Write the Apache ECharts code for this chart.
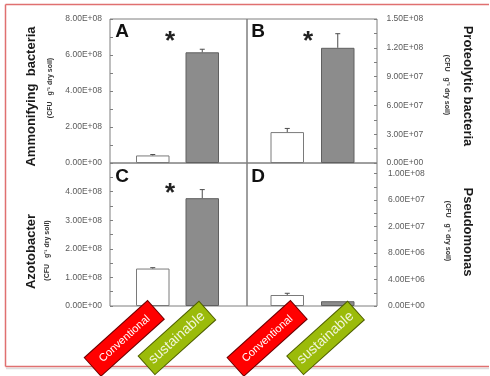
<!DOCTYPE html>
<html>
<head>
<meta charset="utf-8">
<script src="https://cdn.jsdelivr.net/npm/echarts@6/dist/echarts.min.js"></script>
<style>
  html, body { margin: 0; padding: 0; background: #ffffff; overflow: hidden; }
  #chart { width: 490px; height: 376px; }
</style>
</head>
<body>
<div id="chart"></div>
<script>
// Soil bacteria counts (CFU per g dry soil) under two management systems
const categories = ['Conventional', 'sustainable'];

const ammonifying = [4.2e7, 6.15e8];
const ammonifyingErr = [5e6, 1.7e7];

const proteolytic = [3.22e7, 1.2e8];
const proteolyticErr = [3.8e6, 1.47e7];

const azotobacter = [1.31e8, 3.77e8];
const azotobacterErr = [3e6, 3e7];

const pseudomonas = [8.3e6, 3.6e6];
const pseudomonasErr = [1.3e6, 0];

// Axis tick labels, bottom to top
const ticksA = ['0.00E+00', '2.00E+08', '4.00E+08', '6.00E+08', '8.00E+08'];
const ticksB = ['0.00E+00', '3.00E+07', '6.00E+07', '9.00E+07', '1.20E+08', '1.50E+08'];
const ticksC = ['0.00E+00', '1.00E+08', '2.00E+08', '3.00E+08', '4.00E+08'];
const ticksD = ['0.00E+00', '4.00E+06', '8.00E+06', '2.00E+07', '6.00E+07', '1.00E+08'];

const FONT = '"Liberation Sans", Arial, Helvetica, sans-serif';

// frame: [left, top, width, height]; inner: [left, width] of the bar area;
// badgeRow: [left, width] of the row carrying the treatment badges
const panels = [
  { values: ammonifying, err: ammonifyingErr, ticks: ticksA, interval: 2e8, max: 8e8,
    side: 'left', frame: [110, 19, 137, 144], inner: [128, 99], offset: 18, margin: 8 },
  { values: proteolytic, err: proteolyticErr, ticks: ticksB, interval: 3e7, max: 1.5e8,
    side: 'right', frame: [247, 19, 130, 144], inner: [262, 101], offset: 14, margin: 9.5 },
  { values: azotobacter, err: azotobacterErr, ticks: ticksC, interval: 1e8, max: 5e8,
    side: 'left', frame: [110, 163, 137, 143], inner: [128, 99], offset: 18, margin: 8,
    badgeRow: [125.5, 101.5] },
  { values: pseudomonas, err: pseudomonasErr, ticks: ticksD, interval: 2e7, max: 1.08e8,
    side: 'right', frame: [247, 163, 130, 143], inner: [262, 101], offset: 14, margin: 11,
    badgeRow: [265.5, 113] }
];

const barStyles = [
  { color: '#ffffff', borderColor: '#7a7a7a', borderWidth: 1 },
  { color: '#8c8c8c', borderColor: '#606060', borderWidth: 1 }
];

function tickFormatter(ticks, interval) {
  return function (v) {
    const i = Math.round(v / interval);
    if (Math.abs(v - i * interval) > interval * 1e-6) return '';
    return ticks[i] !== undefined ? ticks[i] : '';
  };
}

const grid = [], xAxis = [], yAxis = [], series = [];

panels.forEach(function (p, k) {
  // plotting area for the bars
  grid.push({
    left: p.inner[0], top: p.frame[1], width: p.inner[1], height: p.frame[3],
    show: false, outerBoundsMode: 'none', containLabel: false
  });
  xAxis.push({
    type: 'category', gridIndex: k, data: categories,
    axisLine: { show: false }, axisTick: { show: false }, axisLabel: { show: false }
  });
  yAxis.push({
    type: 'value', gridIndex: k, position: p.side, offset: p.offset,
    min: 0, max: p.max, interval: p.interval,
    axisLine: { show: false },
    splitLine: { show: false },
    axisTick: { show: true, inside: true, length: 3, lineStyle: { color: '#7f7f7f', width: 1 } },
    minorTick: { show: true, splitNumber: 2, length: 3, lineStyle: { color: '#7f7f7f', width: 1 } },
    axisLabel: {
      show: true, margin: p.margin, color: '#5a5a5a', fontSize: 8.5, fontFamily: FONT,
      formatter: tickFormatter(p.ticks, p.interval)
    }
  });
  series.push({
    type: 'bar', xAxisIndex: k, yAxisIndex: k, barWidth: 33.5,
    data: p.values.map(function (v, i) { return { value: v, itemStyle: barStyles[i] }; }),
    silent: true, animation: false
  });
  series.push({
    type: 'custom', xAxisIndex: k, yAxisIndex: k, z: 5, animation: false, silent: true,
    encode: { x: 0, y: 1 },
    data: p.values.map(function (v, i) { return [i, v, p.err[i]]; }),
    renderItem: function (params, api) {
      const x = api.value(0), v = api.value(1), e = api.value(2);
      if (!e) return null;
      const a = api.coord([x, v]);
      const b = api.coord([x, v + e]);
      const st = { stroke: '#4d4d4d', lineWidth: 1 };
      return {
        type: 'group',
        children: [
          { type: 'line', shape: { x1: a[0], y1: a[1], x2: b[0], y2: b[1] }, style: st },
          { type: 'line', shape: { x1: b[0] - 2.5, y1: b[1], x2: b[0] + 2.5, y2: b[1] }, style: st }
        ]
      };
    }
  });
});

// panel frames
panels.forEach(function (p) {
  const gi = grid.length;
  grid.push({
    left: p.frame[0], top: p.frame[1], width: p.frame[2], height: p.frame[3],
    show: true, borderColor: '#7f7f7f', borderWidth: 1, backgroundColor: 'transparent',
    outerBoundsMode: 'none', containLabel: false
  });
  xAxis.push({ type: 'value', gridIndex: gi, show: false });
  yAxis.push({ type: 'value', gridIndex: gi, show: false });
});

// treatment badges under the lower panels
panels.forEach(function (p) {
  if (!p.badgeRow) return;
  const gi = grid.length;
  grid.push({
    left: p.badgeRow[0], top: p.frame[1], width: p.badgeRow[1], height: p.frame[3],
    show: false, outerBoundsMode: 'none', containLabel: false
  });
  xAxis.push({
    type: 'category', gridIndex: gi, data: categories, z: 10,
    axisLine: { show: false }, axisTick: { show: false },
    axisLabel: {
      show: true, interval: 0, rotate: 42, margin: -1,
      align: 'right', verticalAlign: 'top',
      formatter: function (v) { return v === 'Conventional' ? '{c|' + v + '}' : '{s|' + v + '}'; },
      rich: {
        c: { color: '#ffffff', backgroundColor: '#ff0000', borderColor: '#6e0000', borderWidth: 1,
             padding: [7, 10, 6, 10], fontSize: 11, fontFamily: FONT, lineHeight: 14 },
        s: { color: '#f0f6d8', backgroundColor: '#9bbb0a', borderColor: '#4e5f00', borderWidth: 1,
             padding: [5, 5, 5, 5], fontSize: 14, fontFamily: FONT, lineHeight: 16 }
      }
    }
  });
  yAxis.push({ type: 'value', gridIndex: gi, show: false });
});

function vText(text, x, y, rotation, font, fill) {
  return {
    type: 'text', x: x, y: y, rotation: rotation, z: 100,
    style: { text: text, font: font, fill: fill, align: 'center', verticalAlign: 'middle',
             textAlign: 'center', textVerticalAlign: 'middle' }
  };
}

const up = Math.PI / 2, down = -Math.PI / 2;
const titleFont = 'bold 13px ' + FONT;
const unitFont = 'bold 7px ' + FONT;
const unit = '(CFU   g\u207B\u00B9 dry soil)';
const edge = { stroke: '#e07070', lineWidth: 1.5 };

const graphics = [
  // slide frame, open on the right
  { type: 'line', z: -10, shape: { x1: 5.5, y1: 4.5, x2: 489, y2: 4.5 }, style: edge },
  { type: 'line', z: -10, shape: { x1: 5.5, y1: 4.5, x2: 5.5, y2: 366.5 }, style: edge },
  { type: 'line', z: -10, shape: { x1: 5.5, y1: 366.5, x2: 489, y2: 366.5 }, style: edge },
  { type: 'line', z: -11, shape: { x1: 6, y1: 368.5, x2: 489, y2: 368.5 },
    style: { stroke: 'rgba(120,120,120,0.25)', lineWidth: 1.5 } },
  vText('Ammonifying  bacteria', 31, 96.5, up, titleFont, '#1a1a1a'),
  vText(unit, 50.5, 88, up, unitFont, '#333333'),
  vText('Azotobacter', 31, 251.5, up, titleFont, '#1a1a1a'),
  vText(unit, 47.5, 250.5, up, unitFont, '#333333'),
  vText('Proteolytic bacteria', 467.5, 86, down, titleFont, '#1a1a1a'),
  vText(unit, 447, 85, down, unitFont, '#333333'),
  vText('Pseudomonas', 467.5, 232, down, titleFont, '#1a1a1a'),
  vText(unit, 448, 231, down, unitFont, '#333333'),
  // panel letters
  vText('A', 122, 32, 0, 'bold 19px ' + FONT, '#111111'),
  vText('B', 258, 32, 0, 'bold 19px ' + FONT, '#111111'),
  vText('C', 122, 177, 0, 'bold 19px ' + FONT, '#111111'),
  vText('D', 258, 177, 0, 'bold 19px ' + FONT, '#111111'),
  // significance marks
  vText('*', 170, 42, 0, 'bold 26px ' + FONT, '#222222'),
  vText('*', 308, 42, 0, 'bold 26px ' + FONT, '#222222'),
  vText('*', 170, 194, 0, 'bold 26px ' + FONT, '#222222')
];

const chart = echarts.init(document.getElementById('chart'), null, { renderer: 'canvas' });
chart.setOption({
  backgroundColor: '#ffffff',
  animation: false,
  grid: grid,
  xAxis: xAxis,
  yAxis: yAxis,
  series: series,
  graphic: { elements: graphics }
});
</script>
</body>
</html>
